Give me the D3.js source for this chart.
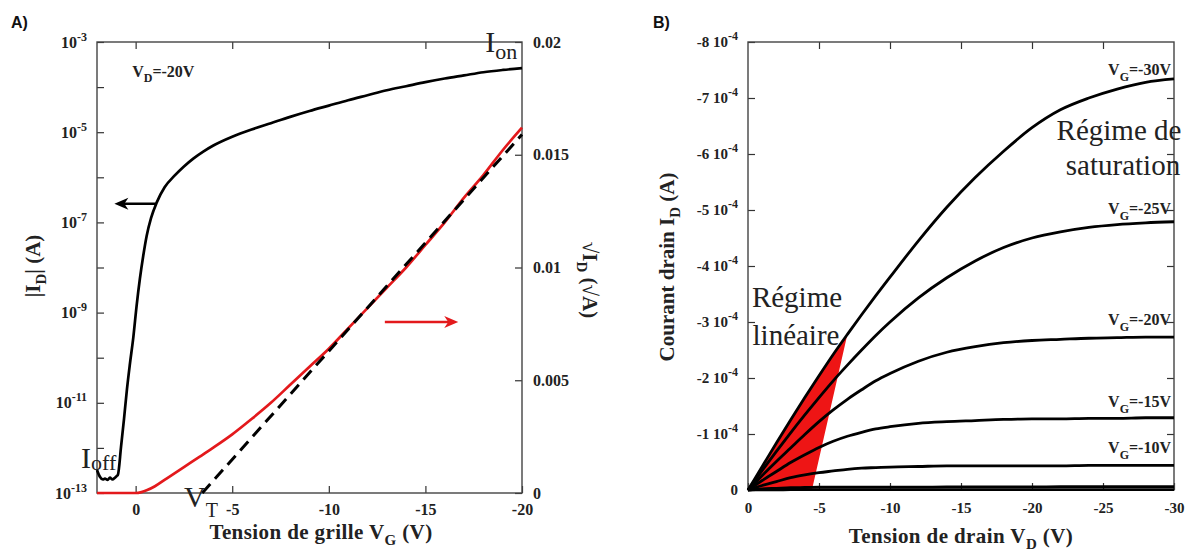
<!DOCTYPE html>
<html><head><meta charset="utf-8">
<script src="https://cdn.jsdelivr.net/npm/d3@7"></script>
<style>body{margin:0;background:#fff}svg{display:block}</style>
</head><body>
<svg id="c" width="1193" height="555"></svg>
<script>
// ---------------- Panel A data ----------------
const vgA = [2.0,1.85,1.7,1.59,1.45,1.33,1.2,1.07,0.97,0.92,0.75,0.6,0.45,0.3,0.12,-0.05,-0.22,-0.39,-0.57,-0.8,-1.1,-1.5,-2,-2.5,-3,-3.5,-4,-5,-6,-7,-8,-9,-10,-11,-12,-13,-14,-15,-16,-17,-18,-19,-20];
const logIdA = [-12.49,-12.64,-12.70,-12.68,-12.71,-12.66,-12.70,-12.66,-12.62,-12.6,-11.95,-11.35,-10.7,-10.15,-9.55,-8.85,-8.25,-7.75,-7.3,-6.9,-6.55,-6.22,-5.97,-5.76,-5.58,-5.43,-5.3,-5.1,-4.94,-4.8,-4.66,-4.53,-4.41,-4.29,-4.18,-4.07,-3.98,-3.89,-3.81,-3.74,-3.67,-3.62,-3.58];
const vgSqrt = [2,1,0.3,0,-0.3,-0.6,-1,-1.6,-2.5,-3.3,-4,-5,-6,-7,-8,-9,-10,-11,-12,-13,-14,-15,-16,-17,-18,-19,-20];
const sqrtId = [0,0,0,0,0.00004,0.00013,0.0003,0.00064,0.00115,0.0016,0.0020,0.0026,0.00328,0.0040,0.0048,0.0056,0.0064,0.0073,0.0082,0.0091,0.0100,0.0110,0.0120,0.0131,0.0141,0.0152,0.0162];
const fitVg = [-3.45,-20];
const fitSqrt = [0,0.0159];
const vgTicks = [0,-5,-10,-15,-20];
const logTickExp = [-3,-4,-5,-6,-7,-8,-9,-10,-11,-12,-13];
const logLabelExp = [-3,-5,-7,-9,-11,-13];
const sqrtTicks = [0,0.005,0.01,0.015,0.02];
const sqrtTickLabels = ["0","0.005","0.01","0.015","0.02"];

// ---------------- Panel B data ----------------
const vdB = [0,-1,-2,-3,-4,-5,-6,-7,-8,-9,-10,-12,-14,-16,-18,-20,-22,-24,-26,-28,-30];
const id30 = [0,0.42,0.84,1.25,1.65,2.04,2.42,2.78,3.13,3.47,3.80,4.45,5.05,5.58,6.05,6.47,6.79,7.00,7.16,7.28,7.34];
const id25 = [0,0.35,0.69,1.02,1.34,1.65,1.95,2.23,2.50,2.76,3.00,3.43,3.79,4.09,4.33,4.50,4.61,4.69,4.74,4.77,4.79];
const id20 = [0,0.26,0.51,0.75,0.99,1.22,1.43,1.62,1.79,1.95,2.08,2.30,2.46,2.56,2.63,2.67,2.69,2.71,2.72,2.73,2.73];
const id15 = [0,0.17,0.33,0.49,0.63,0.76,0.87,0.96,1.03,1.09,1.13,1.19,1.22,1.24,1.26,1.27,1.27,1.28,1.28,1.29,1.29];
const id10 = [0,0.08,0.15,0.22,0.27,0.31,0.34,0.37,0.39,0.40,0.41,0.42,0.43,0.43,0.43,0.43,0.43,0.44,0.44,0.44,0.44];
const id5  = [0,0.02,0.03,0.04,0.045,0.05,0.05,0.05,0.05,0.05,0.05,0.05,0.055,0.055,0.055,0.055,0.06,0.06,0.06,0.06,0.06];
const id0  = [0,0.003,0.004,0.005,0.005,0.005,0.005,0.005,0.005,0.005,0.005,0.005,0.005,0.005,0.005,0.005,0.005,0.005,0.005,0.005,0.005];
const idUnit = -1e-4;
const vgSeries = ["-30","-25","-20","-15","-10"];
const idTicks = [0,-1,-2,-3,-4,-5,-6,-7,-8];
const vdTicks = [0,-5,-10,-15,-20,-25,-30];
const linTopVd = -7;     // linear-regime region: top on VG=-30 curve
const linBaseVd = -4.5;  // bottom-right vertex on the VD axis

// ---------------- helpers ----------------
const svg = d3.select("#c");
const SERIF = "'Liberation Serif','Times New Roman',serif";
const SANS = "'Liberation Sans',Arial,sans-serif";

function rich(sel, parts) {
  let cur = 0;
  for (const p of parts) {
    const sh = p.shift || 0;
    const ts = sel.append("tspan").text(p.t);
    if (sh - cur !== 0) ts.attr("dy", sh - cur);
    if (p.size) ts.attr("font-size", p.size);
    cur = sh;
  }
}
function axisStyler(size) {
  return g => {
    g.select(".domain").remove();
    g.selectAll(".tick line").attr("stroke", "#333").attr("stroke-width", 1.2);
    g.selectAll(".tick text").attr("font-family", SERIF).attr("font-weight", "bold")
      .attr("font-size", size).attr("fill", "#222");
  };
}

// ================= PANEL A =================
const xA = d3.scaleLinear().domain([2, -20]).range([97, 522]);
const yA = d3.scaleLog().domain([1e-13, 1e-3]).range([493, 42]);
const yAr = d3.scaleLinear().domain([0, 0.02]).range([493, 42]);
const gA = svg.append("g");

gA.append("g").attr("transform", `translate(0,${yA.range()[0]})`)
  .call(d3.axisBottom(xA).tickValues(vgTicks).tickSize(-7).tickPadding(11).tickFormat(d => String(d)))
  .call(axisStyler(16));
gA.append("g").attr("transform", `translate(0,${yA.range()[1]})`)
  .call(d3.axisTop(xA).tickValues(vgTicks.slice(0, 4)).tickSize(-7).tickFormat(() => ""))
  .call(axisStyler(16));
gA.append("g").attr("transform", `translate(${xA.range()[0]},0)`)
  .call(d3.axisLeft(yA).tickValues(logTickExp.map(e => Math.pow(10, e))).tickSize(-7).tickPadding(10).tickFormat(() => ""))
  .call(axisStyler(16))
  .selectAll(".tick text").each(function (d) {
    const e = Math.round(Math.log10(d));
    if (!logLabelExp.includes(e)) return;
    rich(d3.select(this), [{ t: "10" }, { t: String(e), shift: -7, size: 12 }]);
  });
gA.append("g").attr("transform", `translate(${xA.range()[1]},0)`)
  .call(d3.axisRight(yAr).tickValues(sqrtTicks).tickSize(-7).tickPadding(11).tickFormat((d, i) => sqrtTickLabels[i]))
  .call(axisStyler(16));

gA.append("rect").attr("x", xA.range()[0]).attr("y", yA.range()[1])
  .attr("width", xA.range()[1] - xA.range()[0]).attr("height", yA.range()[0] - yA.range()[1])
  .attr("fill", "none").attr("stroke", "#444").attr("stroke-width", 1.4);

// red sqrt curve
gA.append("path").datum(vgSqrt.map((v, i) => [v, sqrtId[i]]))
  .attr("d", d3.line().x(d => xA(d[0])).y(d => yAr(d[1])).curve(d3.curveMonotoneX))
  .attr("fill", "none").attr("stroke", "#e3191c").attr("stroke-width", 2.7);
// dashed fit
gA.append("path").datum(fitVg.map((v, i) => [v, fitSqrt[i]]))
  .attr("d", d3.line().x(d => xA(d[0])).y(d => yAr(d[1])))
  .attr("fill", "none").attr("stroke", "#000").attr("stroke-width", 3).attr("stroke-dasharray", "12,7");
// black log curve
gA.append("path").datum(vgA.map((v, i) => [v, Math.pow(10, logIdA[i])]))
  .attr("d", d3.line().x(d => xA(d[0])).y(d => yA(d[1])).curve(d3.curveMonotoneX))
  .attr("fill", "none").attr("stroke", "#000").attr("stroke-width", 2.7);

// arrows
function arrow(g, x1, y, x2, color) {
  const dir = Math.sign(x2 - x1);
  g.append("line").attr("x1", x1).attr("y1", y).attr("x2", x2 - dir * 8).attr("y2", y)
    .attr("stroke", color).attr("stroke-width", 2.6);
  g.append("path").attr("d", `M${x2},${y} L${x2 - dir * 14},${y - 6} L${x2 - dir * 10},${y} L${x2 - dir * 14},${y + 6} Z`)
    .attr("fill", color);
}
arrow(gA, xA(-1.1), yA(2.6e-7), xA(1.1), "#000");
arrow(gA, xA(-12.9), yAr(0.00758), xA(-16.7), "#e3191c");

// texts
gA.append("text").attr("x", 11).attr("y", 28).attr("font-family", SANS).attr("font-weight", "bold")
  .attr("font-size", 16).attr("fill", "#111").text("A)");
rich(gA.append("text").attr("x", xA(0.18)).attr("y", 77).attr("font-family", SERIF).attr("font-weight", "bold")
  .attr("font-size", 16).attr("fill", "#222"), [{ t: "V" }, { t: "D", shift: 5, size: 12 }, { t: "=-20V", shift: 0 }]);
rich(gA.append("text").attr("x", xA(-18.1)).attr("y", 52).attr("font-family", SERIF).attr("font-size", 30).attr("fill", "#222"),
  [{ t: "I" }, { t: "on", shift: 7, size: 22 }]);
rich(gA.append("text").attr("x", 81).attr("y", 468).attr("font-family", SERIF).attr("font-size", 30).attr("fill", "#222"),
  [{ t: "I" }, { t: "off", shift: 2, size: 22 }]);
rich(gA.append("text").attr("x", 184).attr("y", 507).attr("font-family", SERIF).attr("font-size", 30).attr("fill", "#222"),
  [{ t: "V" }, { t: "T", shift: 10, size: 20 }]);
// axis titles
rich(gA.append("text").attr("x", 321).attr("y", 539).attr("text-anchor", "middle").attr("font-family", SERIF)
  .attr("font-weight", "bold").attr("font-size", 21).attr("letter-spacing", 0.4).attr("fill", "#222"),
  [{ t: "Tension de grille V" }, { t: "G", shift: 6, size: 15 }, { t: " (V)", shift: 0 }]);
rich(gA.append("text").attr("transform", "translate(40,266) rotate(-90)").attr("text-anchor", "middle")
  .attr("font-family", SERIF).attr("font-weight", "bold").attr("font-size", 21).attr("fill", "#222"),
  [{ t: "|I" }, { t: "D", shift: 6, size: 15 }, { t: "| (A)", shift: 0 }]);
rich(gA.append("text").attr("transform", "translate(583,280) rotate(90)").attr("text-anchor", "middle")
  .attr("font-family", SERIF).attr("font-weight", "bold").attr("font-size", 21).attr("fill", "#222"),
  [{ t: "√I" }, { t: "D", shift: 6, size: 15 }, { t: " (√A)", shift: 0 }]);

// ================= PANEL B =================
const xB = d3.scaleLinear().domain([0, -30]).range([748, 1174]);
const yB = d3.scaleLinear().domain([0, -8e-4]).range([490, 42]);
const gB = svg.append("g");

gB.append("g").attr("transform", `translate(0,${yB.range()[0]})`)
  .call(d3.axisBottom(xB).tickValues(vdTicks).tickSize(-7).tickPadding(12).tickFormat(d => String(d)))
  .call(axisStyler(15));
gB.append("g").attr("transform", `translate(0,${yB.range()[1]})`)
  .call(d3.axisTop(xB).tickValues(vdTicks.slice(1, 6)).tickSize(-7).tickFormat(() => ""))
  .call(axisStyler(15));
gB.append("g").attr("transform", `translate(${xB.range()[0]},0)`)
  .call(d3.axisLeft(yB).tickValues(idTicks.map(v => v * 1e-4)).tickSize(-7).tickPadding(10).tickFormat(() => ""))
  .call(axisStyler(15))
  .selectAll(".tick text").each(function (d, i) {
    const t = d3.select(this);
    const m = idTicks[i];
    if (m === 0) { t.text("0"); return; }
    rich(t, [{ t: m + " 10" }, { t: "-4", shift: -7, size: 12 }]);
  });
gB.append("g").attr("transform", `translate(${xB.range()[1]},0)`)
  .call(d3.axisRight(yB).tickValues(idTicks.slice(1, 8).map(v => v * 1e-4)).tickSize(-7).tickFormat(() => ""))
  .call(axisStyler(15));

gB.append("rect").attr("x", xB.range()[0]).attr("y", yB.range()[1])
  .attr("width", xB.range()[1] - xB.range()[0]).attr("height", yB.range()[0] - yB.range()[1])
  .attr("fill", "none").attr("stroke", "#444").attr("stroke-width", 1.4);

// red linear-regime polygon (follows VG=-30 curve up to linTopVd)
const polyPts = vdB.map((v, i) => [v, id30[i] * idUnit]).filter(d => d[0] >= linTopVd);
polyPts.push([linBaseVd, 0]);
gB.append("path").attr("d", "M" + polyPts.map(d => xB(d[0]) + "," + yB(d[1])).join("L") + "Z")
  .attr("fill", "#ee1515");

const seriesB = [id30, id25, id20, id15, id10, id5, id0];
const lineB = d3.line().x(d => xB(d[0])).y(d => yB(d[1])).curve(d3.curveMonotoneX);
seriesB.forEach(s => {
  gB.append("path").datum(vdB.map((v, i) => [v, s[i] * idUnit]))
    .attr("d", lineB).attr("fill", "none").attr("stroke", "#000").attr("stroke-width", 2.8);
});

// curve labels
const labelLift = [4, 8, 12, 11, 12];
vgSeries.forEach((lab, k) => {
  const s = seriesB[k];
  rich(gB.append("text").attr("x", xB(-30) - 3).attr("y", yB(s[s.length - 1] * idUnit) - labelLift[k])
    .attr("text-anchor", "end").attr("font-family", SERIF).attr("font-weight", "bold")
    .attr("font-size", 16).attr("fill", "#222"),
    [{ t: "V" }, { t: "G", shift: 6, size: 12 }, { t: "=" + lab + "V", shift: 0 }]);
});

gB.append("text").attr("x", 653).attr("y", 28).attr("font-family", SANS).attr("font-weight", "bold")
  .attr("font-size", 16).attr("fill", "#111").text("B)");
const regime = [["Régime de", 1119, 140], ["saturation", 1123, 175], ["Régime", 797, 307], ["linéaire", 796, 345]];
regime.forEach(r => gB.append("text").attr("x", r[1]).attr("y", r[2]).attr("text-anchor", "middle")
  .attr("font-family", SERIF).attr("font-size", 29).attr("fill", "#222").text(r[0]));

rich(gB.append("text").attr("x", 961).attr("y", 543).attr("text-anchor", "middle").attr("font-family", SERIF)
  .attr("font-weight", "bold").attr("font-size", 21).attr("letter-spacing", 0.4).attr("fill", "#222"),
  [{ t: "Tension de drain V" }, { t: "D", shift: 6, size: 15 }, { t: " (V)", shift: 0 }]);
rich(gB.append("text").attr("transform", "translate(674,267) rotate(-90)").attr("text-anchor", "middle")
  .attr("font-family", SERIF).attr("font-weight", "bold").attr("font-size", 21).attr("fill", "#222"),
  [{ t: "Courant drain I" }, { t: "D", shift: 6, size: 15 }, { t: " (A)", shift: 0 }]);
</script>
</body></html>
